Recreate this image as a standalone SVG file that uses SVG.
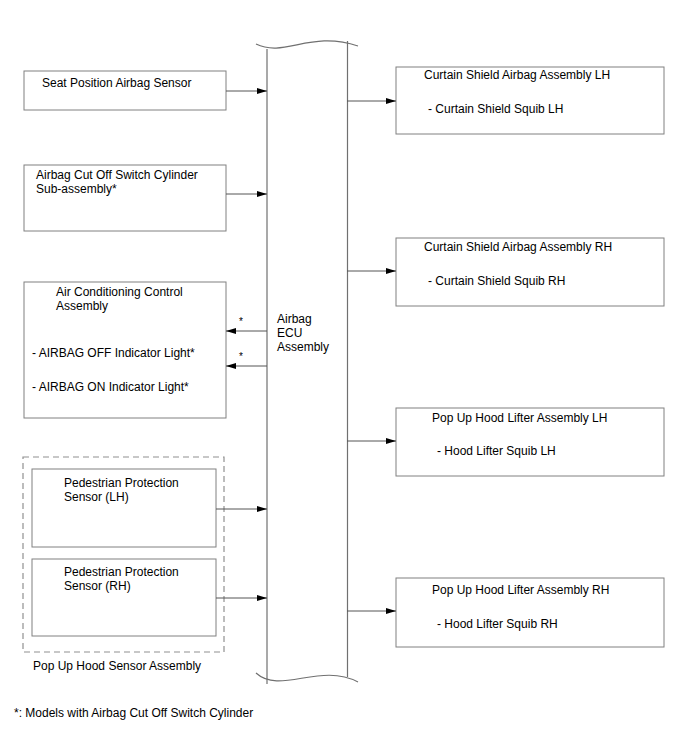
<svg xmlns="http://www.w3.org/2000/svg" width="688" height="755" viewBox="0 0 688 755">
<defs>
<marker id="ah" markerWidth="10" markerHeight="8" refX="10" refY="4" orient="auto" markerUnits="userSpaceOnUse">
<path d="M0,1 L10,4 L0,7 Z" fill="#000"/>
</marker>
<style>
.box{fill:#fff;stroke:#808080;stroke-width:1}
.dash{fill:none;stroke:#909090;stroke-width:1.2;stroke-dasharray:6 4}
.ecu{fill:none;stroke:#707070;stroke-width:1.2}
.c{fill:none;stroke:#555;stroke-width:1;marker-end:url(#ah)}
text{font-family:"Liberation Sans",Arial,sans-serif;font-size:12px;fill:#000}
</style>
</defs>
<rect width="688" height="755" fill="#fff"/>

<g id="ecu">
<path class="ecu" d="M256,44 C285,58 310,30 358,46"/>
<path class="ecu" d="M256,673 C280,695 320,662 358,682"/>
<line class="ecu" x1="267" y1="49" x2="267" y2="684"/>
<line class="ecu" x1="347.5" y1="41" x2="347.5" y2="677"/>
<text x="277" y="323">Airbag</text>
<text x="277" y="337">ECU</text>
<text x="277" y="351">Assembly</text>
</g>

<g id="seat-position-sensor">
<rect class="box" x="24" y="71" width="202" height="39"/>
<text x="42" y="87">Seat Position Airbag Sensor</text>
</g>

<g id="cut-off-switch">
<rect class="box" x="24" y="165" width="202" height="66"/>
<text x="36" y="179">Airbag Cut Off Switch Cylinder</text>
<text x="36" y="193">Sub-assembly*</text>
</g>

<g id="ac-control">
<rect class="box" x="24" y="282" width="202" height="136"/>
<text x="56" y="296">Air Conditioning Control</text>
<text x="56" y="310">Assembly</text>
<text x="32" y="357">- AIRBAG OFF Indicator Light*</text>
<text x="32" y="391">- AIRBAG ON Indicator Light*</text>
</g>

<g id="pop-up-hood-sensor-assembly">
<rect class="dash" x="23" y="457" width="201" height="195"/>
<text x="33" y="670">Pop Up Hood Sensor Assembly</text>
</g>

<g id="ped-sensor-lh">
<rect class="box" x="32" y="469" width="184" height="78"/>
<text x="64" y="487">Pedestrian Protection</text>
<text x="64" y="501">Sensor (LH)</text>
</g>

<g id="ped-sensor-rh">
<rect class="box" x="32" y="559" width="184" height="77"/>
<text x="64" y="576">Pedestrian Protection</text>
<text x="64" y="590">Sensor (RH)</text>
</g>

<g id="curtain-lh">
<rect class="box" x="396" y="67" width="268" height="67"/>
<text x="424" y="79">Curtain Shield Airbag Assembly LH</text>
<text x="428" y="113">- Curtain Shield Squib LH</text>
</g>

<g id="curtain-rh">
<rect class="box" x="396" y="238" width="268" height="68"/>
<text x="424" y="251">Curtain Shield Airbag Assembly RH</text>
<text x="428" y="285">- Curtain Shield Squib RH</text>
</g>

<g id="hood-lifter-lh">
<rect class="box" x="396" y="408" width="268" height="68"/>
<text x="432" y="422">Pop Up Hood Lifter Assembly LH</text>
<text x="437" y="455">- Hood Lifter Squib LH</text>
</g>

<g id="hood-lifter-rh">
<rect class="box" x="396" y="578" width="268" height="69"/>
<text x="432" y="594">Pop Up Hood Lifter Assembly RH</text>
<text x="437" y="628">- Hood Lifter Squib RH</text>
</g>

<g id="connectors">
<line class="c" x1="226" y1="91" x2="267" y2="91"/>
<line class="c" x1="226" y1="194" x2="267" y2="194"/>
<line class="c" x1="267" y1="331" x2="226" y2="331"/>
<line class="c" x1="267" y1="366" x2="226" y2="366"/>
<line class="c" x1="216" y1="509" x2="267" y2="509"/>
<line class="c" x1="216" y1="598" x2="267" y2="598"/>
<line class="c" x1="347" y1="101" x2="396" y2="101"/>
<line class="c" x1="347" y1="271" x2="396" y2="271"/>
<line class="c" x1="347" y1="441" x2="396" y2="441"/>
<line class="c" x1="347" y1="611" x2="396" y2="611"/>
<text x="239" y="325" style="font-size:10px">*</text>
<text x="239" y="360" style="font-size:10px">*</text>
</g>

<text x="14" y="717">*: Models with Airbag Cut Off Switch Cylinder</text>
</svg>
